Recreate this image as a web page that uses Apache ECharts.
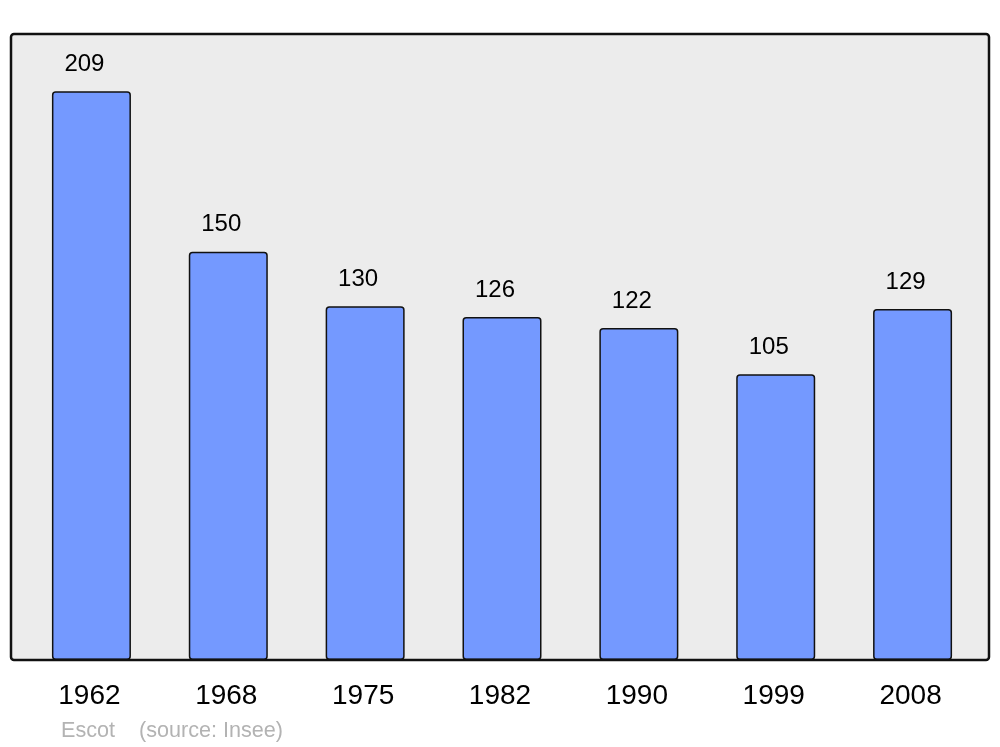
<!DOCTYPE html>
<html>
<head>
<meta charset="utf-8">
<script src="https://cdn.jsdelivr.net/npm/echarts@6/dist/echarts.min.js"></script>
<style>html,body{margin:0;padding:0;background:#fff;}#c{width:1000px;height:747px;}</style>
</head>
<body>
<div id="c"></div>
<script>
const categories = ['1962','1968','1975','1982','1990','1999','2008'];
const population = [209,150,130,126,122,105,129];
const footerText = 'Escot    (source: Insee)';

const chart = echarts.init(document.getElementById('c'), null, {renderer:'canvas'});
const font = '"Liberation Sans", Arial, sans-serif';
chart.setOption({
  animation: false,
  grid: {left: 23, right: 19, top: 34, bottom: 87, containLabel: false},
  graphic: [
    {type:'rect', z: -10, shape:{x:11, y:34, width:978, height:626, r:3}, style:{fill:'#ececec', stroke:null}},
    {type:'rect', z: 100, shape:{x:11, y:34, width:978, height:626, r:3}, style:{fill:null, stroke:'#111', lineWidth:2.5}},
    {type:'text', left: 61, top: 720, style:{text: footerText, fill:'#b3b3b3', font: '21.6px ' + font}}
  ],
  xAxis: {
    type:'category', data: categories,
    axisLine:{show:false}, axisTick:{show:false},
    axisLabel:{color:'#000', fontSize:28, fontFamily:font, margin:22,
      padding:[0,4,0,0]}
  },
  yAxis: {
    type:'value', min:0, max:230, show:false, splitLine:{show:false}
  },
  series: [{
    type:'bar', data: population, barWidth: 79,
    itemStyle:{color:'#7499ff', borderColor:'#111', borderWidth:1.5, borderRadius:3},
    label:{show:true, position:'top', distance:15, offset:[-7,0], color:'#000', fontSize:24, fontFamily:font}
  }]
});
</script>
</body>
</html>
